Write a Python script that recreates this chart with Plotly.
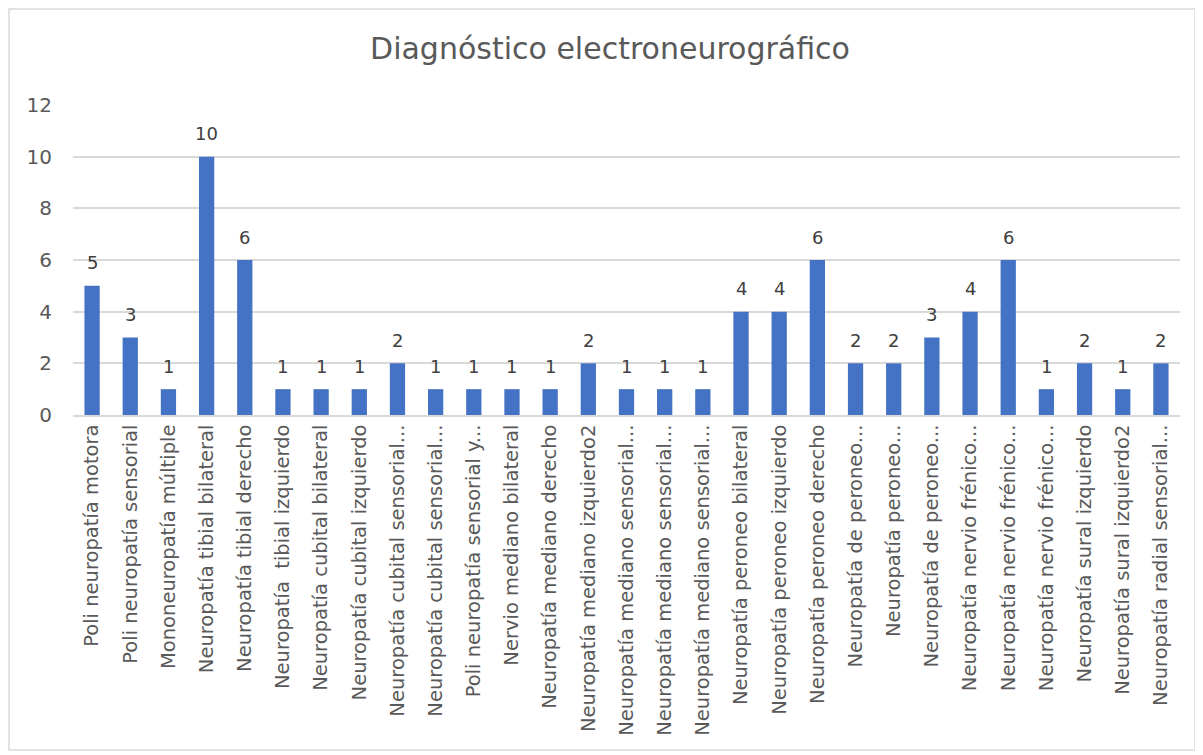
import plotly.graph_objects as go

categories = [
    "Poli neuropatía motora",
    "Poli neuropatía sensorial",
    "Mononeuropatía múltiple",
    "Neuropatía tibial bilateral",
    "Neuropatía tibial derecho",
    "Neuropatía  tibial izquierdo",
    "Neuropatía cubital bilateral",
    "Neuropatía cubital izquierdo",
    "Neuropatía cubital sensorial...",
    "Neuropatía cubital sensorial...",
    "Poli neuropatía sensorial y...",
    "Nervio mediano bilateral",
    "Neuropatía mediano derecho",
    "Neuropatía mediano izquierdo2",
    "Neuropatía mediano sensorial...",
    "Neuropatía mediano sensorial...",
    "Neuropatía mediano sensorial...",
    "Neuropatía peroneo bilateral",
    "Neuropatía peroneo izquierdo",
    "Neuropatía peroneo derecho",
    "Neuropatía de peroneo...",
    "Neuropatía peroneo...",
    "Neuropatía de peroneo...",
    "Neuropatía nervio frénico...",
    "Neuropatía nervio frénico...",
    "Neuropatía nervio frénico...",
    "Neuropatía sural izquierdo",
    "Neuropatía sural izquierdo2",
    "Neuropatía radial sensorial...",
]
values = [5, 3, 1, 10, 6, 1, 1, 1, 2, 1, 1, 1, 1, 2, 1, 1, 1, 4, 4, 6, 2, 2, 3, 4, 6, 1, 2, 1, 2]
y_ticks = [0, 2, 4, 6, 8, 10, 12]
title = "Diagnóstico electroneurográfico"

positions = list(range(len(categories)))
FONT = "DejaVu Sans, sans-serif"

fig = go.Figure(
    go.Bar(
        x=positions,
        y=values,
        width=0.4,
        marker=dict(color="#4472C4", line=dict(width=0)),
        hoverinfo="x+y",
    )
)

annotations = [
    dict(
        x=p, y=v, xref="x", yref="y", text=str(v), showarrow=False,
        yanchor="middle", xanchor="center", yshift=23,
        font=dict(family=FONT, size=18, color="#404040"),
    )
    for p, v in zip(positions, values)
]

# figure is offset 8px by the page body margin
W, H = 1195, 747
ml, mr, mt, mb = 65, 23, 97, 340
pw, ph = W - ml - mr, H - mt - mb

fig.update_layout(
    width=W,
    height=H,
    autosize=False,
    margin=dict(l=ml, r=mr, t=mt, b=mb),
    paper_bgcolor="white",
    plot_bgcolor="white",
    showlegend=False,
    title=dict(
        text=title,
        x=602 / W,
        xanchor="center",
        y=1 - 40 / H,
        yanchor="middle",
        font=dict(family=FONT, size=30, color="#595959"),
    ),
    xaxis=dict(
        tickmode="array",
        tickvals=positions,
        ticktext=categories,
        tickangle=-90,
        range=[-0.5, len(categories) - 0.5],
        showgrid=False,
        showline=True,
        linecolor="#D9D9D9",
        linewidth=1.5,
        ticks="",
        tickfont=dict(family=FONT, size=19.5, color="#595959"),
        zeroline=False,
        automargin=False,
    ),
    yaxis=dict(
        tickmode="array",
        tickvals=y_ticks,
        range=[0, 12],
        showgrid=True,
        gridcolor="#D9D9D9",
        gridwidth=1.5,
        zeroline=False,
        showline=False,
        ticks="",
        ticklabelstandoff=20,
        tickfont=dict(family=FONT, size=20, color="#595959"),
        automargin=False,
    ),
    annotations=annotations,
    shapes=[
        dict(
            type="rect",
            xref="paper",
            yref="paper",
            x0=(1 - ml) / pw,
            x1=(1187 - ml) / pw,
            y0=(H - mb - 742) / ph,
            y1=(H - mb - 1) / ph,
            line=dict(color="#D9D9D9", width=1.5),
            fillcolor="rgba(0,0,0,0)",
            layer="below",
        )
    ],
)

fig.write_html("out.html")
